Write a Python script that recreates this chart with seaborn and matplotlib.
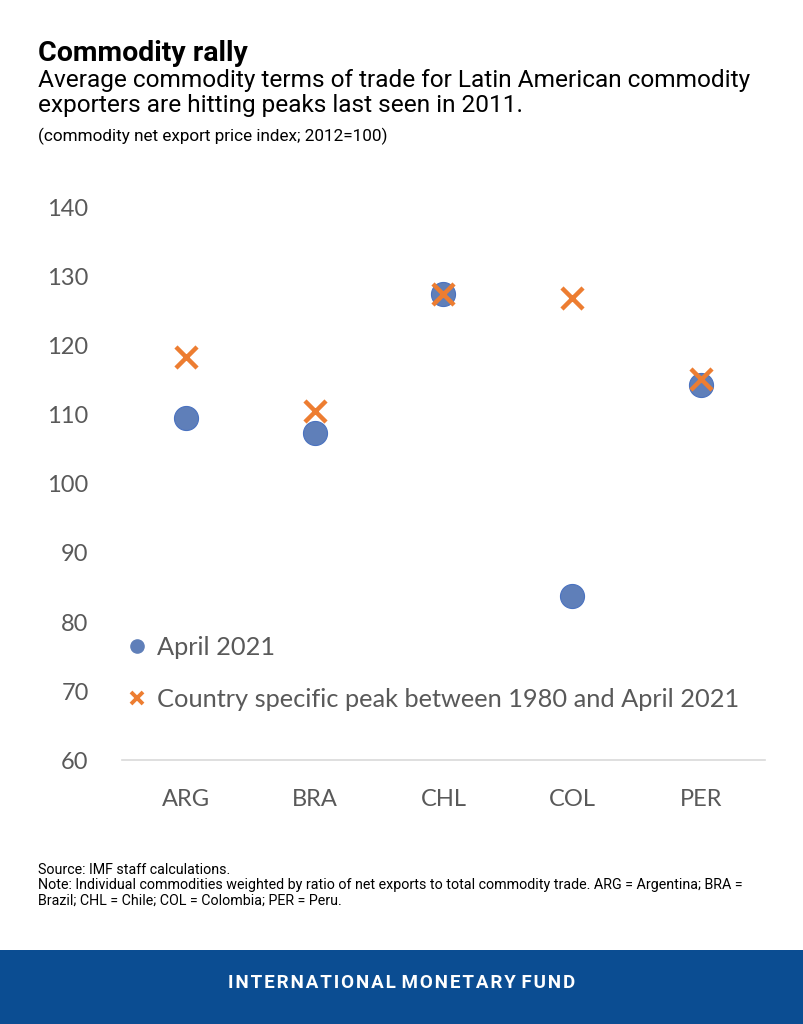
import matplotlib
matplotlib.use("Agg")
import matplotlib.pyplot as plt
import seaborn as sns
import pandas as pd
from matplotlib.lines import Line2D
from matplotlib.patches import Rectangle

categories = ["ARG", "BRA", "CHL", "COL", "PER"]
april_2021 = [109.6, 107.4, 127.6, 83.8, 114.4]
peak_values = [118.4, 110.6, 127.5, 127.0, 115.2]
y_ticks = [60, 70, 80, 90, 100, 110, 120, 130, 140]

df = pd.DataFrame({"country": categories, "april": april_2021, "peak": peak_values})

sns.set_theme(style="white")
plt.rcParams['font.family'] = ['Lato', 'DejaVu Sans']

fig = plt.figure(figsize=(8.04, 10.24), dpi=100)
ax = fig.add_axes([0.1517, 0.2578, 0.7998, 0.5391])

blue = "#5f7fb9"
orange = "#ED7D31"
gray = "#595959"

sns.scatterplot(data=df, x="country", y="april", ax=ax, color=blue, s=300,
                marker="o", edgecolor="#4a72c0", linewidth=0.8, zorder=3, legend=False)
sns.scatterplot(data=df, x="country", y="peak", ax=ax, color=orange, s=230,
                marker="x", linewidth=3.2, zorder=4, legend=False)

ax.set_xlim(-0.5, 4.5)
ax.set_ylim(60, 140)
ax.set_yticks(y_ticks)
ax.set_xlabel("")
ax.set_ylabel("")
for s in ["top", "right", "left"]:
    ax.spines[s].set_visible(False)
ax.spines["bottom"].set_color("#d9d9d9")
ax.spines["bottom"].set_linewidth(1.2)
ax.tick_params(axis="both", length=0, labelsize=17, colors=gray, pad=0)
ax.tick_params(axis="y", pad=24)
ax.tick_params(axis="x", pad=21)
ax.grid(False)

handles = [
    Line2D([], [], marker="o", color=blue, linestyle="none", markersize=9.5),
    Line2D([], [], marker="x", color=orange, linestyle="none", markersize=9, markeredgewidth=2.8),
]
leg = ax.legend(handles, ["April 2021", "Country specific peak between 1980 and April 2021"],
          loc="center left", bbox_to_anchor=(0.005, 0.157), frameon=False,
          fontsize=18.3, labelcolor=gray, handletextpad=0.35, labelspacing=1.15,
          handlelength=0.9, borderaxespad=0, borderpad=0)

fig.text(38/804, 1 - 40/1024, "Commodity rally", fontsize=20.5, fontweight="bold",
         family=["Roboto", "DejaVu Sans"], va="top", ha="left", color="black")
fig.text(38/804, 1 - 69/1024,
         "Average commodity terms of trade for Latin American commodity\nexporters are hitting peaks last seen in 2011.",
         fontsize=17.6, family=["Roboto", "DejaVu Sans"], va="top", ha="left",
         color="black", linespacing=1.12)
fig.text(38/804, 1 - 128/1024, "(commodity net export price index; 2012=100)",
         fontsize=12.3, family=["Roboto", "DejaVu Sans"], va="top", ha="left", color="black")

fig.text(38/804, 1 - 863/1024,
         "Source: IMF staff calculations.\nNote: Individual commodities weighted by ratio of net exports to total commodity trade. ARG = Argentina; BRA =\nBrazil; CHL = Chile; COL = Colombia; PER = Peru.",
         fontsize=10.3, family=["Roboto", "DejaVu Sans"], va="top", ha="left",
         color="black", linespacing=1.12)

fig.patches.append(Rectangle((0, 0), 1, 74/1024, transform=fig.transFigure,
                             facecolor="#0b4d92", edgecolor="none", zorder=0))
fig.text(0.5, 1 - 983/1024, "I N T E R N A T I O N A L   M O N E T A R Y   F U N D".replace(" ", "\u200a"),
         fontsize=13.5, fontweight="bold", family=["Roboto", "DejaVu Sans"], color="white",
         ha="center", va="center")

fig.savefig("out.png", dpi=100, facecolor="white")
